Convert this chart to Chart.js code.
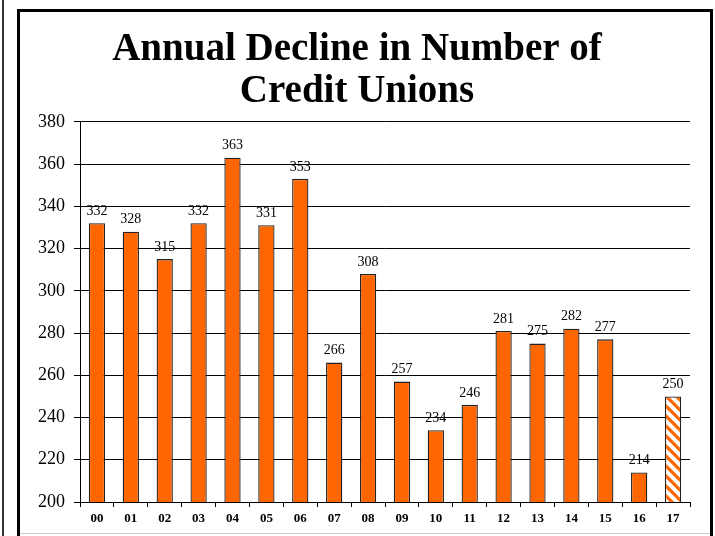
<!DOCTYPE html>
<html lang="en">
<head>
  <meta charset="UTF-8" />
  <title>Annual Decline in Number of Credit Unions</title>
  <script src="https://cdn.jsdelivr.net/npm/chart.js"></script>
  <style>
    html, body { margin: 0; padding: 0; background: #fff; }
    body { width: 715px; height: 536px; position: relative; overflow: hidden; }
    .edge { position: absolute; left: 2px; top: 0; width: 2px; height: 536px; background: #333; }
    .frame { position: absolute; left: 17px; top: 9px; width: 690px; height: 540px; border: 3px solid #000; }
    .foot { position: absolute; left: 20px; top: 533px; width: 690px; height: 1px; background: #ccc; }
    canvas { position: absolute; left: 0; top: 0; }
  </style>
</head>
<body>
  <div class="edge"></div>
  <div class="frame"></div>
  <div class="foot"></div>
  <canvas id="chart" width="715" height="536"></canvas>

  <script>
    const years = ['00', '01', '02', '03', '04', '05', '06', '07', '08', '09', '10', '11', '12', '13', '14', '15', '16', '17'];
    const decline = [332, 328, 315, 332, 363, 331, 353, 266, 308, 257, 234, 246, 281, 275, 282, 277, 214, 250];
    const yTicks = [200, 220, 240, 260, 280, 300, 320, 340, 360, 380];

    const orange = '#ff6600';
    const serif = "'Liberation Serif', 'Times New Roman', serif";

    // striped fill for the last (estimated) year
    function stripes() {
      const n = 10;
      const c = document.createElement('canvas');
      c.width = n; c.height = n;
      const g = c.getContext('2d');
      g.fillStyle = '#fff';
      g.fillRect(0, 0, n, n);
      g.strokeStyle = orange;
      g.lineWidth = 3.2;
      g.beginPath();
      g.moveTo(-2, -2); g.lineTo(n + 2, n + 2);
      g.moveTo(-n - 2, -2); g.lineTo(2, n + 2);
      g.moveTo(n - 2, -2); g.lineTo(2 * n + 2, n + 2);
      g.stroke();
      return document.getElementById('chart').getContext('2d').createPattern(c, 'repeat');
    }
    const hatch = stripes();
    const fills = years.map((y, i) => i === years.length - 1 ? hatch : orange);

    const barLabels = {
      id: 'barLabels',
      afterDatasetsDraw(chart) {
        const ctx = chart.ctx;
        const meta = chart.getDatasetMeta(0);
        ctx.save();
        ctx.font = '14px ' + serif;
        ctx.fillStyle = '#000';
        ctx.textAlign = 'center';
        ctx.textBaseline = 'bottom';
        meta.data.forEach((bar, i) => {
          ctx.fillText(decline[i], bar.x, bar.y - 5);
        });
        ctx.restore();
      }
    };

    new Chart(document.getElementById('chart'), {
      type: 'bar',
      data: {
        labels: years,
        datasets: [{
          data: decline,
          backgroundColor: fills,
          borderColor: '#222',
          borderWidth: 1.3,
          barPercentage: 0.48,
          categoryPercentage: 1
        }]
      },
      options: {
        responsive: false,
        animation: false,
        layout: { padding: { left: 24, right: 25, top: 0, bottom: 0 } },
        plugins: {
          legend: { display: false },
          tooltip: { enabled: false },
          title: {
            display: true,
            text: ['Annual Decline in Number of', 'Credit Unions'],
            color: '#000',
            font: { family: serif, size: 39, weight: 'bold', lineHeight: 1.1 },
            padding: { top: 28, bottom: 8 }
          }
        },
        scales: {
          x: {
            afterFit: s => { s.height = 34; },
            grid: { display: true, drawOnChartArea: false, drawTicks: true, tickLength: 5, color: '#000', offset: true },
            border: { color: '#000', width: 1 },
            ticks: { color: '#000', padding: 4, font: { family: serif, size: 13, weight: 'bold' } }
          },
          y: {
            min: 200,
            max: 380,
            afterFit: s => { s.width = 56; },
            afterBuildTicks: s => { s.ticks = yTicks.map(v => ({ value: v })); },
            grid: { color: '#000', lineWidth: 1, tickLength: 6 },
            border: { color: '#000', width: 1 },
            ticks: { color: '#000', padding: 9, font: { family: serif, size: 18 } }
          }
        }
      },
      plugins: [barLabels]
    });
  </script>
</body>
</html>
